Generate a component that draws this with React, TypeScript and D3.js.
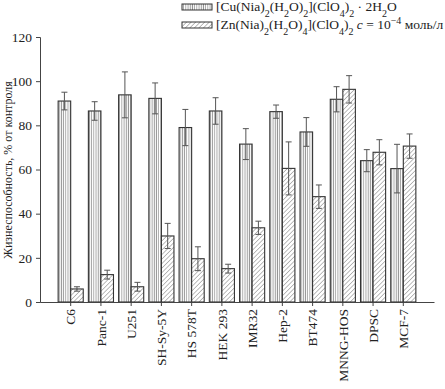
import React, { useRef, useEffect } from 'react';
import * as d3 from 'd3';

const cells = ['C6', 'Panc-1', 'U251', 'SH-Sy-5Y', 'HS 578T', 'HEK 293', 'IMR32', 'Hep-2', 'BT474', 'MNNG-HOS', 'DPSC', 'MCF-7'];
const cuValues = [91, 86.5, 93.8, 92.2, 79, 86.5, 71.5, 86.2, 77, 91.8, 64, 60.4];
const cuErrors = [4, 4.2, 10.4, 7, 8.2, 6, 7, 3, 6.5, 5.7, 5, 11];
const znValues = [5.9, 12.4, 6.9, 29.9, 19.6, 15.1, 33.6, 60.5, 47.7, 96.3, 67.8, 70.6];
const znErrors = [1, 2, 2, 5.7, 5.4, 2, 3, 12, 5.3, 6.2, 5.7, 5.5];
const yTicks = [0, 20, 40, 60, 80, 100, 120];

const W = 445;
const H = 389;
const FONT = '"Liberation Serif", "Times New Roman", serif';

export default function App() {
  const ref = useRef<SVGSVGElement>(null);

  useEffect(() => {
    const svg = d3.select(ref.current);
    svg.selectAll('*').remove();

    const left = 40, right = 434, top = 37, bottom = 302;

    const x = d3.scaleBand().domain(cells).range([left, right]).paddingInner(0.17).paddingOuter(0.6);
    const sub = d3.scaleBand().domain(['cu', 'zn']).range([0, x.bandwidth()]);
    const y = d3.scaleLinear().domain([0, 120]).range([bottom, top]);

    // patterns
    const defs = svg.append('defs');
    const vert = defs.append('pattern')
      .attr('id', 'vert').attr('patternUnits', 'userSpaceOnUse')
      .attr('width', 2.2).attr('height', 10);
    vert.append('rect').attr('width', 2.2).attr('height', 10).attr('fill', 'white');
    vert.append('line').attr('x1', 1).attr('x2', 1).attr('y1', 0).attr('y2', 10)
      .attr('stroke', '#8a8a8a').attr('stroke-width', 0.8);

    const diag = defs.append('pattern')
      .attr('id', 'diag').attr('patternUnits', 'userSpaceOnUse')
      .attr('width', 3.2).attr('height', 3.2)
      .attr('patternTransform', 'rotate(45)');
    diag.append('rect').attr('width', 3.2).attr('height', 3.2).attr('fill', 'white');
    diag.append('line').attr('x1', 0).attr('x2', 0).attr('y1', 0).attr('y2', 3.2)
      .attr('stroke', '#7a7a7a').attr('stroke-width', 1);

    // bars
    const groups = svg.append('g').selectAll('g')
      .data(cells)
      .enter().append('g')
      .attr('transform', d => `translate(${x(d)},0)`);

    const series = [
      { key: 'cu', vals: cuValues, errs: cuErrors, fill: 'url(#vert)' },
      { key: 'zn', vals: znValues, errs: znErrors, fill: 'url(#diag)' },
    ];

    series.forEach(s => {
      groups.append('rect')
        .attr('x', sub(s.key)!)
        .attr('y', (d, i) => y(s.vals[i]))
        .attr('width', sub.bandwidth())
        .attr('height', (d, i) => y(0) - y(s.vals[i]))
        .attr('fill', s.fill)
        .attr('stroke', '#333')
        .attr('stroke-width', 1.1);

      const cx = sub(s.key)! + sub.bandwidth() / 2;
      groups.append('line')
        .attr('x1', cx).attr('x2', cx)
        .attr('y1', (d, i) => y(s.vals[i] - s.errs[i]))
        .attr('y2', (d, i) => y(s.vals[i] + s.errs[i]))
        .attr('stroke', '#555').attr('stroke-width', 1);
      [1, -1].forEach(sign => {
        groups.append('line')
          .attr('x1', cx - 3).attr('x2', cx + 3)
          .attr('y1', (d, i) => y(s.vals[i] + sign * s.errs[i]))
          .attr('y2', (d, i) => y(s.vals[i] + sign * s.errs[i]))
          .attr('stroke', '#555').attr('stroke-width', 1);
      });
    });

    // y axis
    const yAxis = svg.append('g')
      .attr('transform', `translate(${left},0)`)
      .call(d3.axisLeft(y).tickValues(yTicks).tickSize(4).tickPadding(4));
    yAxis.select('.domain').attr('stroke', '#444');
    yAxis.selectAll('.tick line').attr('stroke', '#444');
    yAxis.selectAll('.tick text')
      .style('font-size', '13.5px')
      .style('font-family', FONT)
      .attr('fill', '#222');

    // x axis
    const xAxis = svg.append('g')
      .attr('transform', `translate(0,${bottom})`)
      .call(d3.axisBottom(x).tickSize(4).tickSizeOuter(0));
    xAxis.select('.domain').attr('stroke', '#444');
    xAxis.selectAll('.tick line').attr('stroke', '#444');
    xAxis.selectAll('.tick text')
      .style('font-size', '13.5px')
      .style('font-family', FONT)
      .attr('fill', '#222')
      .attr('text-anchor', 'end')
      .attr('dy', '0.35em')
      .attr('transform', 'translate(0,7) rotate(-90)')
      .attr('x', 0)
      .attr('y', 0);

    // y label
    svg.append('text')
      .attr('transform', `translate(12,170) rotate(-90)`)
      .attr('text-anchor', 'middle')
      .style('font-size', '12px')
      .style('font-family', FONT)
      .attr('fill', '#222')
      .text('Жизнеспособность, % от контроля');

    // legend
    const leg = svg.append('g');
    const legRows = [
      { fill: 'url(#vert)', y: 4 },
      { fill: 'url(#diag)', y: 22 },
    ];
    legRows.forEach(r => {
      leg.append('rect').attr('x', 182).attr('y', r.y).attr('width', 30).attr('height', 6)
        .attr('fill', r.fill).attr('stroke', '#333').attr('stroke-width', 1);
    });

    const addText = (ty: number, parts: [string, string][]) => {
      const t = leg.append('text')
        .attr('x', 216).attr('y', ty)
        .style('font-size', '13.5px')
        .style('font-family', FONT)
        .attr('fill', '#222');
      parts.forEach(([txt, kind]) => {
        const span = t.append('tspan').text(txt);
        if (kind === 'sub') span.attr('baseline-shift', 'sub').style('font-size', '10px');
        if (kind === 'sup') span.attr('baseline-shift', 'super').style('font-size', '10px');
        if (kind === 'it') span.style('font-style', 'italic');
      });
    };
    addText(11, [['[Cu(Nia)', ''], ['2', 'sub'], ['(H', ''], ['2', 'sub'], ['O)', ''], ['2', 'sub'],
      ['](ClO', ''], ['4', 'sub'], [')', ''], ['2', 'sub'], [' · 2H', ''], ['2', 'sub'], ['O', '']]);
    addText(29, [['[Zn(Nia)', ''], ['2', 'sub'], ['(H', ''], ['2', 'sub'], ['O)', ''], ['4', 'sub'],
      ['](ClO', ''], ['4', 'sub'], [')', ''], ['2', 'sub'], [' ', ''], ['c', 'it'], [' = 10', ''], ['−4', 'sup'], [' моль/л', '']]);
  }, []);

  return (
    <svg ref={ref} width={W} height={H}
      style={{ position: 'absolute', left: 0, top: 0, background: 'white' }} />
  );
}
